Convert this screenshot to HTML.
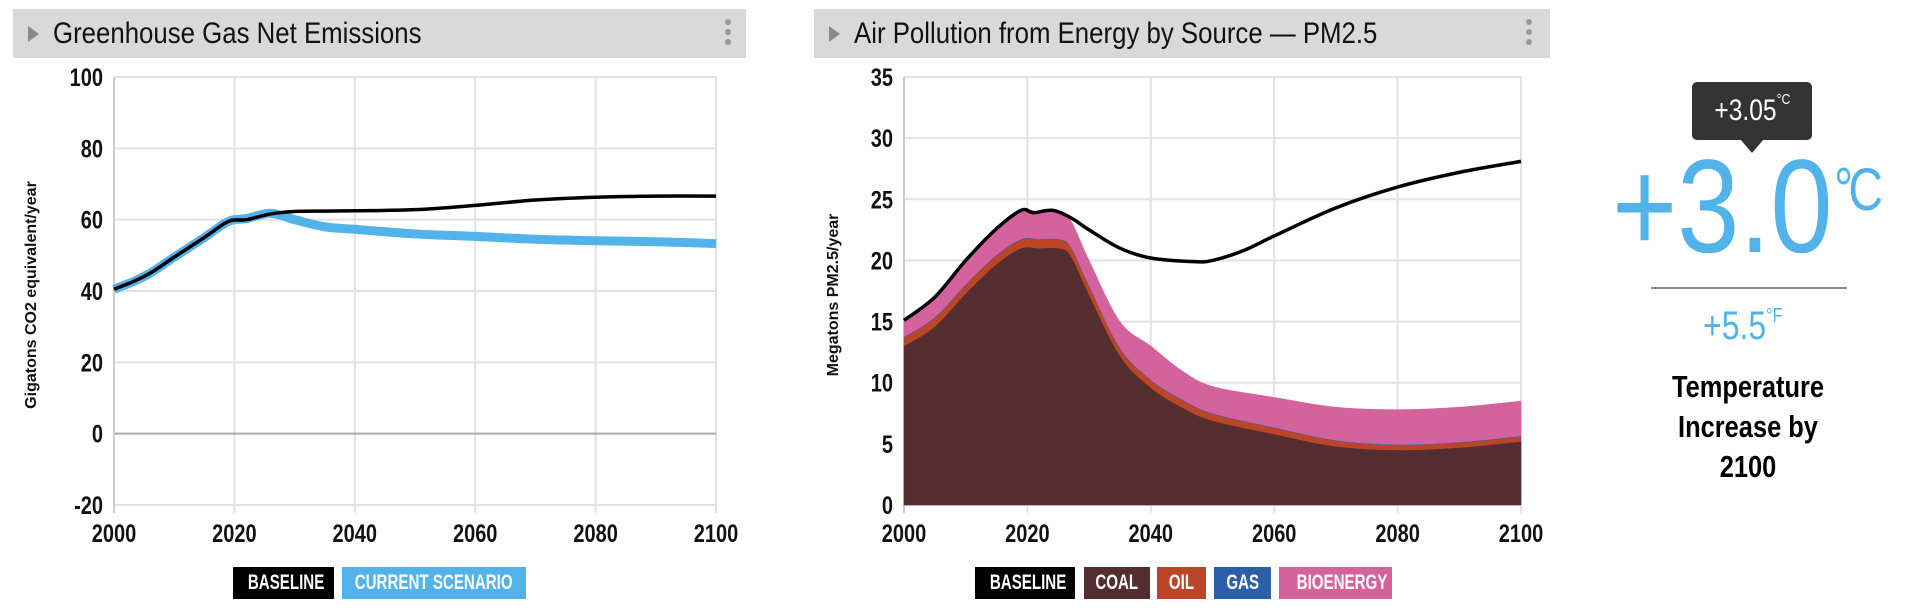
<!DOCTYPE html>
<html><head><meta charset="utf-8">
<style>
body{margin:0;width:1908px;height:614px;background:#fff;overflow:hidden;position:relative;font-family:"Liberation Sans",sans-serif;}
.hdr{position:absolute;top:9px;height:49px;background:#d9d9d9;}
.hdr .tri{position:absolute;left:15px;top:17px;width:0;height:0;border-top:8px solid transparent;border-bottom:8px solid transparent;border-left:11px solid #8a8a8a;}
.hdr .ttl{position:absolute;left:40px;top:8px;font-size:30px;color:#111;white-space:nowrap;transform:scaleX(0.86);transform-origin:0 0;}
.hdr .dots{position:absolute;top:10px;width:6px;}
.hdr .dots i{display:block;width:6px;height:6px;border-radius:3px;background:#999;margin-bottom:4px;}
.leg{position:absolute;top:567px;height:32px;color:#fff;font-weight:bold;font-size:21px;line-height:32px;text-align:center;white-space:nowrap;overflow:visible;}
.leg span{display:inline-block;transform:scaleX(0.72);}
svg{position:absolute;left:0;top:0;}
svg text{font-family:"Liberation Sans",sans-serif;font-weight:bold;}
</style></head><body>
<div class="hdr" style="left:13px;width:733px;">
 <div class="tri"></div>
 <div class="ttl">Greenhouse Gas Net Emissions</div>
 <div class="dots" style="left:712px"><i></i><i></i><i></i></div>
</div>
<div class="hdr" style="left:814px;width:736px;">
 <div class="tri"></div>
 <div class="ttl">Air Pollution from Energy by Source — PM2.5</div>
 <div class="dots" style="left:712px"><i></i><i></i><i></i></div>
</div>

<svg id="chart" width="1908" height="614"></svg>

<div class="leg" style="left:233px;width:101px;background:#000;"><span>BASELINE</span></div>
<div class="leg" style="left:342px;width:184px;background:#52b2ea;"><span style="margin-left:-30px;margin-right:-30px;">CURRENT SCENARIO</span></div>
<div class="leg" style="left:975px;width:100px;background:#000;"><span>BASELINE</span></div>
<div class="leg" style="left:1084px;width:66px;background:#532d2f;"><span>COAL</span></div>
<div class="leg" style="left:1157px;width:49px;background:#bb4526;"><span>OIL</span></div>
<div class="leg" style="left:1214px;width:57px;background:#2c5fa8;"><span>GAS</span></div>
<div class="leg" style="left:1279px;width:113px;background:#d4639d;"><span>BIOENERGY</span></div>

<div style="position:absolute;left:1692px;top:82px;width:120px;height:58px;background:#333;border-radius:5px;color:#fff;font-size:30px;line-height:58px;text-align:center;white-space:nowrap;"><span style="display:inline-block;transform:scaleX(0.82);">+3.05<span style="font-size:15px;vertical-align:top;line-height:36px;">°C</span></span></div>
<div style="position:absolute;left:1740px;top:139px;width:0;height:0;border-left:12px solid transparent;border-right:12px solid transparent;border-top:14px solid #333;"></div>
<div style="position:absolute;left:1612px;top:132px;font-size:133px;line-height:150px;color:#52b2ea;white-space:nowrap;transform:scaleX(0.84);transform-origin:0 0;">+3.0</div>
<div style="position:absolute;left:1834px;top:160px;font-size:60px;line-height:60px;color:#52b2ea;white-space:nowrap;letter-spacing:-6px;transform:scaleX(0.8);transform-origin:0 0;">°C</div>
<div style="position:absolute;left:1651px;top:287px;width:196px;height:2px;background:#888;"></div>
<div style="position:absolute;left:1703px;top:304px;font-size:40px;line-height:44px;color:#52b2ea;white-space:nowrap;transform:scaleX(0.8);transform-origin:0 0;">+5.5<span style="font-size:20px;vertical-align:top;line-height:24px;">°F</span></div>
<div style="position:absolute;left:1648px;top:367px;width:200px;text-align:center;font-size:31px;line-height:40px;font-weight:bold;color:#000;transform:scaleX(0.82);">Temperature Increase by 2100</div>

<script>
// Chart 1 data
const ghgYears = [2000,2003,2006,2010,2015,2019,2022,2026,2030,2035,2040,2050,2060,2070,2080,2090,2100];
const ghgBaseline = [40.5,42.5,45,49.5,55,59.5,60,61.6,62.3,62.4,62.5,62.8,64,65.5,66.3,66.6,66.6];
const ghgCurrent = [40.5,42.5,45,49.5,55,59.5,60.3,61.8,60,58,57.3,56,55.3,54.5,54.1,53.8,53.3];
const ghgYTicks = [-20,0,20,40,60,80,100];
const xTicks = [2000,2020,2040,2060,2080,2100];
// Chart 2 data
const pmYears = [2000,2005,2010,2015,2019,2022,2025,2027,2030,2035,2040,2045,2050,2060,2070,2080,2090,2100];
const pmCoal = [13,14.6,17.3,19.7,21,21,21,20.4,17.2,12.2,9.6,8,6.9,5.8,4.8,4.5,4.7,5.2];
const pmOil = [0.7,0.7,0.7,0.7,0.7,0.7,0.7,0.7,0.7,0.6,0.6,0.6,0.55,0.5,0.45,0.4,0.4,0.4];
const pmGas = [0.05,0.05,0.05,0.05,0.05,0.05,0.05,0.05,0.05,0.05,0.05,0.05,0.05,0.05,0.05,0.05,0.05,0.05];
const pmBio = [1.35,1.65,1.95,2.15,2.25,2.25,2.25,2.15,2.05,2.15,2.75,2.35,2.2,2.45,2.7,2.85,2.85,2.85];
const pmBaseYears = [2000,2005,2010,2015,2019,2021,2024,2027,2030,2035,2040,2047,2050,2055,2060,2070,2080,2090,2100];
const pmBaseline = [15.1,17,20,22.6,24.1,23.9,24.1,23.5,22.5,21,20.2,19.9,20,20.8,22,24.3,26,27.2,28.1];
const pmYTicks = [0,5,10,15,20,25,30,35];

const NS='http://www.w3.org/2000/svg';
const svg=document.getElementById('chart');
function el(tag,attrs,parent){const e=document.createElementNS(NS,tag);for(const k in attrs)e.setAttribute(k,attrs[k]);(parent||svg).appendChild(e);return e;}
function smooth(pts){let d='M'+pts[0][0]+','+pts[0][1];for(let i=0;i<pts.length-1;i++){const p0=pts[i-1]||pts[i],p1=pts[i],p2=pts[i+1],p3=pts[i+2]||p2;const c1x=p1[0]+(p2[0]-p0[0])/6,c1y=p1[1]+(p2[1]-p0[1])/6,c2x=p2[0]-(p3[0]-p1[0])/6,c2y=p2[1]-(p3[1]-p1[1])/6;d+=' C'+c1x+','+c1y+' '+c2x+','+c2y+' '+p2[0]+','+p2[1];}return d;}

function narrowText(x,y,anchor,size,txt,name){
  const g=el('g',{transform:'translate('+x+','+y+') scale(0.8,1)'});
  const t=el('text',{x:0,y:0,'text-anchor':anchor,'font-size':size,fill:'#111'},g);
  t.textContent=txt;
  
  
}

function axes(L,R,T,B,xmin,xmax,ymin,ymax,yt,name){
  const x=v=>L+(v-xmin)/(xmax-xmin)*(R-L), y=v=>B-(v-ymin)/(ymax-ymin)*(B-T);
  xTicks.forEach(t=>{const g=el('line',{x1:x(t),x2:x(t),y1:T,y2:B+8,stroke:'#e2e2e2','stroke-width':2});
    
    narrowText(x(t),B+37,'middle',25,t,name+'-x-tick-label');});
  yt.forEach(t=>{const g=el('line',{x1:L,x2:R,y1:y(t),y2:y(t),stroke:t===0&&ymin<0?'#aaa':'#e2e2e2','stroke-width':2});
    
    narrowText(L-11,y(t)+9,'end',25,t,name+'-y-tick-label');});
  const ax=el('line',{x1:L,x2:L,y1:T,y2:B+8,stroke:'#ccc','stroke-width':2});
  
  return {x,y};
}

// Chart 1
const c1=axes(114,716,77,505,2000,2100,-20,100,ghgYTicks,'ghg');
const cur=el('path',{d:smooth(ghgYears.map((v,i)=>[c1.x(v),c1.y(ghgCurrent[i])])),fill:'none',stroke:'#52b2ea','stroke-width':9});

const bl=el('path',{d:smooth(ghgYears.map((v,i)=>[c1.x(v),c1.y(ghgBaseline[i])])),fill:'none',stroke:'#000','stroke-width':3.5});

const t1=el('text',{x:0,y:0,transform:'translate(36,295) rotate(-90)','text-anchor':'middle','font-size':16,fill:'#111'});
t1.textContent='Gigatons CO2 equivalent/year';

// Chart 2
const c2=axes(904,1521,77,505,2000,2100,0,35,pmYTicks,'pm');
const layers=[['coal',pmCoal,'#532d2f'],['oil',pmOil,'#bb4526'],['gas',pmGas,'#2c5fa8'],['bioenergy',pmBio,'#d4639d']];
let base=pmYears.map(()=>0);
layers.forEach(([nm,vals,col])=>{
  const top=base.map((b,i)=>b+vals[i]);
  const tp=pmYears.map((yv,i)=>[c2.x(yv),c2.y(top[i])]);
  const bp=pmYears.map((yv,i)=>[c2.x(yv),c2.y(base[i])]).reverse();
  const d=smooth(tp)+' L'+smooth(bp).slice(1)+' Z';
  const p=el('path',{d:d,fill:col,stroke:col,'stroke-width':0.5});
  
  base=top;
});
const bl2=el('path',{d:smooth(pmBaseYears.map((v,i)=>[c2.x(v),c2.y(pmBaseline[i])])),fill:'none',stroke:'#000','stroke-width':3.5});

const t2=el('text',{x:0,y:0,transform:'translate(838,295) rotate(-90)','text-anchor':'middle','font-size':16,fill:'#111'});
t2.textContent='Megatons PM2.5/year';
</script>
</body></html>
